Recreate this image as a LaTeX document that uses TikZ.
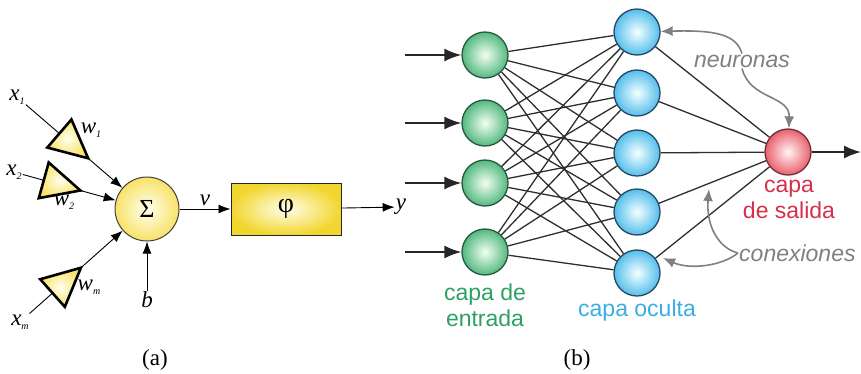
\documentclass[tikz,border=0pt]{standalone}
\usepackage{fontspec}
\setmainfont{Liberation Serif}
\newfontfamily\netfont{Liberation Sans}
\usetikzlibrary{arrows.meta, positioning}

\definecolor{neurgreen}{RGB}{84,184,128}
\definecolor{neurgreenline}{RGB}{40,88,62}
\definecolor{neurblue}{RGB}{84,190,236}
\definecolor{neurblueline}{RGB}{38,72,98}
\definecolor{neurred}{RGB}{234,96,108}
\definecolor{neurredline}{RGB}{108,48,54}
\definecolor{txtgreen}{RGB}{46,160,100}
\definecolor{txtblue}{RGB}{58,174,226}
\definecolor{txtred}{RGB}{214,48,72}
\definecolor{sumyellow}{RGB}{248,226,104}
\definecolor{boxyellow}{RGB}{242,214,48}
\definecolor{notegray}{RGB}{128,128,128}

\newcommand{\sub}[1]{\raisebox{-4pt}{\fontsize{10}{10}\selectfont #1}}

\tikzset{
  neuron/.style={circle, minimum size=46pt, inner sep=0pt, line width=1.3pt},
  conn/.style={draw=black!82, line width=1.3pt},
  inarrow/.style={line width=1.8pt, -{Latex[length=17pt,width=13pt]}},
  sumarrow/.style={line width=0.9pt, -{Latex[length=12pt,width=9pt]}},
  notearrow/.style={draw=notegray, line width=1.6pt, -{Latex[length=12pt,width=10pt]}},
  serlabel/.style={font=\fontsize{23}{24}\selectfont\itshape, inner sep=1pt},
  netlabel/.style={font=\netfont\fontsize{23}{26}\selectfont, align=center, inner sep=0pt},
  notelabel/.style={font=\netfont\itshape\fontsize{23}{25}\selectfont, text=notegray, inner sep=1pt}
}

\begin{document}
\begin{tikzpicture}[x=1pt, y=-1pt]
\useasboundingbox (0,0) rectangle (861,373);

% (a) neurona
\node [circle, minimum size=64pt, inner sep=0pt, draw=black!75, line width=1pt,
       inner color=yellow!6!white, outer color=sumyellow] (sum) at (147,209) {\fontsize{26}{28}\selectfont Σ};
\node [rectangle, minimum width=110pt, minimum height=52pt, draw=black!85, line width=1pt,
       inner color=yellow!8!white, outer color=boxyellow] (phi) at (286,209) {\fontsize{28}{30}\selectfont φ};

\node [serlabel] (x1) at (17,97) {x\sub{1}};
\node [serlabel] (x2) at (14,172) {x\sub{2}};
\node [serlabel] (xm) at (20,322) {x\sub{m}};
\node [serlabel] (blab) at (147,300) {b};
\node [serlabel] (ylab) at (401,207) {y};

\draw [sumarrow] (x1) -- (sum);
\draw [sumarrow] (x2) -- (sum);
\draw [sumarrow] (xm) -- (sum);
\draw [sumarrow] (blab) -- (sum);
\draw [sumarrow] (sum) -- node[serlabel, above=2pt] (vlab) {v} (phi);
\draw [sumarrow] (phi) -- (ylab);

\foreach \cx/\cy/\ang in {69/141.8/-40.7, 56/183.7/-15.5, 62/284.6/41.7}
  \shadedraw [shift={(\cx,\cy)}, rotate=\ang, line width=2.6pt, line join=miter,
              inner color=yellow!6!white, outer color=sumyellow]
    (-12.7,-18.5) -- (-12.7,18.5) -- (25.3,0) -- cycle;

\node [serlabel] (w1) at (91,130) {w\sub{1}};
\node [serlabel] (w2) at (64,202) {w\sub{2}};
\node [serlabel] (wm) at (89,287) {w\sub{m}};

% (b) red
\foreach \i/\y in {1/55, 2/123, 3/183, 4/252}
  \node [neuron, draw=neurgreenline, inner color=green!5!white, outer color=neurgreen] (g\i) at (485,\y) {};
\foreach \j/\y in {1/32, 2/93, 3/153, 4/212, 5/273}
  \node [neuron, draw=neurblueline, inner color=cyan!4!white, outer color=neurblue] (h\j) at (637,\y) {};
\node [neuron, draw=neurredline, inner color=red!4!white, outer color=neurred] (o) at (788,152) {};

\foreach \i in {1,...,4}
  \foreach \j in {1,...,5}
    \draw [conn] (g\i) -- (h\j);
\foreach \j in {1,...,5}
  \draw [conn] (h\j) -- (o);

\foreach \i/\y in {1/55, 2/123, 3/183, 4/252} {
  \coordinate (in\i) at (405,\y);
  \draw [inarrow, black!85] (in\i) -- (g\i);
}
\coordinate (out) at (861,152);
\draw [inarrow, black!85] (o) -- (out);

\node [netlabel, text=txtgreen] (entrada) at (485,305) {capa de\\entrada};
\node [netlabel, text=txtblue] (oculta) at (637,311) {capa oculta};
\node [netlabel, text=txtred] (salida) at (789,199) {capa\\de salida};

\node [notelabel] (neur) at (742,61) {neuronas};
\draw [notearrow] (neur.north) .. controls (736,34) and (715,30) .. (h1);
\draw [notearrow] (neur.south) .. controls (750,100) and (790,95) .. (o);

\node [notelabel, anchor=west] (conex) at (738,253) {conexiones};
\coordinate (c1) at (709,189);
\coordinate (c2) at (663,258);
\draw [notearrow] (conex.west) .. controls (718,248) and (706,225) .. (c1);
\draw [notearrow] (conex.west) .. controls (722,266) and (690,270) .. (c2);

\node [font=\fontsize{23}{24}\selectfont] (figa) at (155,360) {(a)};
\node [font=\fontsize{23}{24}\selectfont] (figb) at (577,360) {(b)};
\end{tikzpicture}
\end{document}
